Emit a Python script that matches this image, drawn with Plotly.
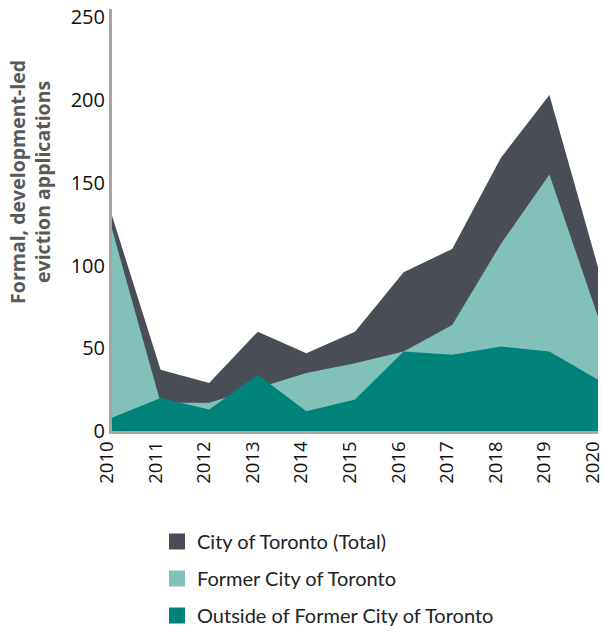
import plotly.graph_objects as go

years = [2010, 2011, 2012, 2013, 2014, 2015, 2016, 2017, 2018, 2019, 2020]
total = [130, 37, 29, 60, 47, 60, 96, 110, 165, 203, 99]
former = [122, 17, 17, 26, 35, 41, 48, 64, 113, 155, 69]
outside = [8, 20, 13, 34, 12, 19, 48, 46, 51, 48, 31]

names = ["City of Toronto (Total)", "Former City of Toronto", "Outside of Former City of Toronto"]
colors = ["#494d56", "#82c0ba", "#00847a"]
series = [total, former, outside]

fig = go.Figure()
for name, col, vals in zip(names, colors, series):
    fig.add_trace(go.Scatter(x=years, y=vals, mode="none", fill="tozeroy",
                             fillcolor=col, showlegend=False, hoverinfo="x+y", name=name))
for i, (name, col) in enumerate(zip(names, colors)):
    fig.add_trace(go.Scatter(x=[None], y=[None], mode="markers", name=name,
                             legendgroup=f"g{i}",
                             marker=dict(symbol="square", size=18, color=col)))

fig.update_layout(
    width=603, height=632,
    margin=dict(l=112, r=5, t=9, b=201, autoexpand=False),
    paper_bgcolor="white", plot_bgcolor="white",
    font=dict(family="Open Sans", color="#1a1a1a"),
    xaxis=dict(range=[2010, 2020], tickvals=years, ticktext=[str(y) for y in years],
               tickangle=-90, showgrid=False, zeroline=False, automargin=False,
               ticklabeloverflow="allow", ticklabelshift=-5,
               showline=True, linecolor="#a6a6a6", linewidth=3,
               tickfont=dict(size=18.5, family="Open Sans", color="#111111"), ticks=""),
    yaxis=dict(range=[0, 255], tickvals=[0, 50, 100, 150, 200, 250], showgrid=False,
               zeroline=False, showline=True, linecolor="#a6a6a6", linewidth=3, automargin=False,
               tickfont=dict(size=20, family="Open Sans", color="#111111"), ticks=""),
    legend=dict(xref="container", yref="container", x=157 / 603, y=(632 - 522) / 632,
                xanchor="left", yanchor="top",
                font=dict(size=20, family="Lato", color="#222222"),
                tracegroupgap=8, itemsizing="trace"),
    annotations=[dict(text="<b>Formal, development-led<br>eviction applications</b>",
                      xref="paper", yref="paper", x=-0.169, y=0.59,
                      xanchor="center", yanchor="middle", textangle=-90, showarrow=False,
                      font=dict(size=19.5, family="Open Sans", color="#595959"))],
)

fig.write_html("out.html", config={"displayModeBar": False},
               post_script="document.body.style.margin='0px';document.body.style.overflow='hidden';")
